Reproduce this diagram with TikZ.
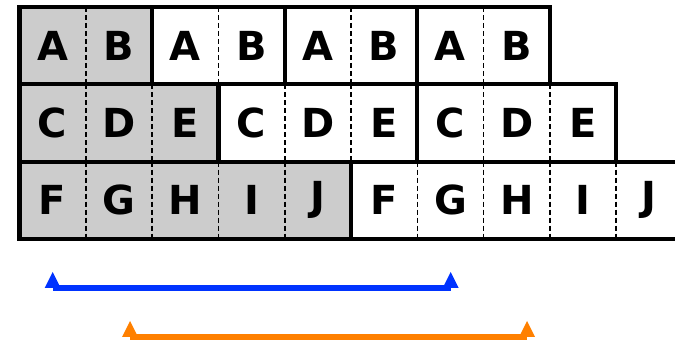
\documentclass[tikz,border=0pt]{standalone}
\usepackage{fontspec}
\setmainfont{DejaVu Sans}
\usepackage{tikz}
\usetikzlibrary{positioning,calc,backgrounds}
\definecolor{gridgray}  {HTML}{CCCCCC}
\definecolor{spanblue}  {HTML}{0033FF}
\definecolor{spanorange}{HTML}{FF8000}
\tikzset{
  cell/.style={minimum width=66.3pt, minimum height=77.3pt, inner sep=0pt,
               outer sep=0pt, font=\fontsize{40}{40}\selectfont\bfseries},
  celldiv/.style={draw=black, line width=1.6pt, dash pattern=on 5pt off 3pt},
  groupbox/.style={draw=black, line width=4.2pt},
  spanline/.style={line width=6pt},
}
\begin{document}
\begin{tikzpicture}[x=1pt,y=1pt]
  \useasboundingbox (0,0) rectangle (675,340);
  \clip (0,0) rectangle (675,340);
  % pairs
  \foreach \i/\t in {0/A,1/B,2/A,3/B,4/A,5/B,6/A,7/B}
    {\node[cell] (p\i) at ({19.5+66.3*(\i+0.5)},294.35) {\t};}
  % triples
  \foreach \i/\t in {0/C,1/D,2/E,3/C,4/D,5/E,6/C,7/D,8/E}
    {\node[cell] (t\i) at ({19.5+66.3*(\i+0.5)},217) {\t};}
  % fives
  \foreach \i/\t in {0/F,1/G,2/H,3/I,4/J,5/F,6/G,7/H,8/I,9/J}
    {\node[cell] (f\i) at ({19.5+66.3*(\i+0.5)},139.65) {\t};}
  \begin{scope}[on background layer]
    \fill[gridgray] (p0.north west) rectangle (p1.south east);
    \fill[gridgray] (t0.north west) rectangle (t2.south east);
    \fill[gridgray] (f0.north west) rectangle (f4.south east);
  \end{scope}
  \foreach \c in {p0,p1,p2,p3,p4,p5,p6,t0,t1,t2,t3,t4,t5,t6,t7,f0,f1,f2,f3,f4,f5,f6,f7,f8}
    {\draw[celldiv] (\c.north east) -- (\c.south east);}
  \foreach \a/\b in {p0/p1,p2/p3,p4/p5,p6/p7,t0/t2,t3/t5,t6/t8,f0/f4,f5/f9}
    {\draw[groupbox] (\a.north west) rectangle (\b.south east);}
  % spans
  \coordinate (bl) at (52.7,52);
  \coordinate (br) at (450.7,52);
  \coordinate (ol) at (130,3);
  \coordinate (or) at (527,3);
  \draw[spanline,spanblue] (bl) -- (br);
  \draw[spanline,spanorange] (ol) -- (or);
  \foreach \c/\col in {bl/spanblue,br/spanblue,ol/spanorange,or/spanorange}
    {\fill[\col] ($(\c)+(-8,0)$) -- ($(\c)+(0,16)$) -- ($(\c)+(8,0)$) -- cycle;}
\end{tikzpicture}
\end{document}
